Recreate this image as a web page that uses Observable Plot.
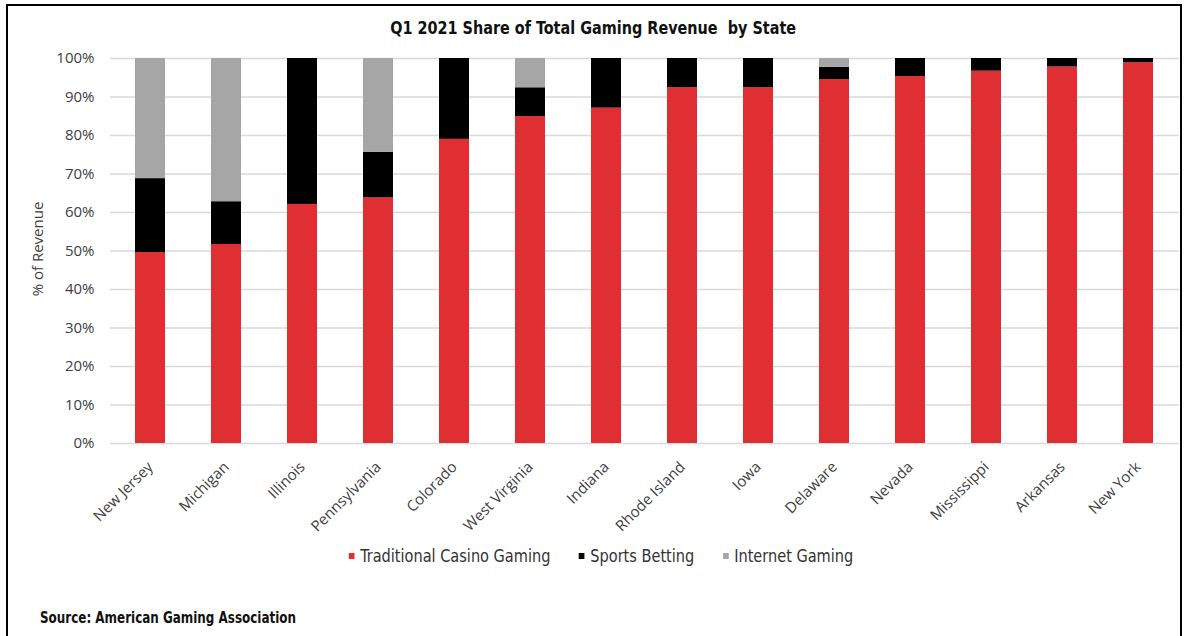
<!DOCTYPE html>
<html>
<head>
<meta charset="utf-8">
<script src="https://cdn.jsdelivr.net/npm/d3@7"></script>
<script src="https://cdn.jsdelivr.net/npm/@observablehq/plot@0.6"></script>
<style>
  html, body { margin: 0; padding: 0; background: #fff; overflow: hidden; }
  #wrap { position: relative; width: 1185px; height: 636px; overflow: hidden; }
  #frame { position: absolute; left: 6px; top: 4px; width: 1176px; height: 700px; border: 2px solid #000; box-sizing: border-box; }
  #chart { position: absolute; left: 0; top: 0; }
  .cond { font-family: "Liberation Sans Narrow", "DejaVu Sans Condensed", Roboto, sans-serif; }
  #title { position: absolute; left: 0; width: 1185px; top: 17px; text-align: center; font-weight: bold; font-size: 18px; color: #111; white-space: pre; transform: scaleX(0.89); transform-origin: 598px 0; }
  #ylabel { position: absolute; left: 37px; top: 249px; transform: translate(-50%, -50%) rotate(-90deg); font-family: "Open Sans", sans-serif; font-size: 15px; color: #404040; white-space: nowrap; }
  #legend { position: absolute; left: 8px; width: 1185px; top: 546px; display: flex; justify-content: center; gap: 30px; font-size: 17px; color: #333; transform: scaleX(0.95); transform-origin: 603px 0; }
  #legend .item { display: flex; align-items: center; }
  #legend .sw { width: 6px; height: 6px; margin-right: 6px; }
  #source { position: absolute; left: 40px; top: 608px; font-weight: bold; font-size: 16px; color: #111; white-space: nowrap; transform: scaleX(0.83); transform-origin: 0 0; }
</style>
</head>
<body>
<div id="wrap">
  <div id="chart"></div>
  <div id="frame"></div>
  <div id="title" class="cond"></div>
  <div id="ylabel"></div>
  <div id="legend" class="cond"></div>
  <div id="source" class="cond"></div>
</div>
<script>
const titleText = "Q1 2021 Share of Total Gaming Revenue  by State";
const yLabel = "% of Revenue";
const sourceText = "Source: American Gaming Association";

const states = ["New Jersey", "Michigan", "Illinois", "Pennsylvania", "Colorado", "West Virginia", "Indiana", "Rhode Island", "Iowa", "Delaware", "Nevada", "Mississippi", "Arkansas", "New York"];
const seriesNames = ["Traditional Casino Gaming", "Sports Betting", "Internet Gaming"];
const seriesColors = ["#e02f33", "#000000", "#a6a6a6"];
// shares in percent
const casino   = [49.6, 51.7, 62.1, 63.8, 79.0, 84.9, 87.1, 92.4, 92.4, 94.5, 95.3, 96.7, 97.8, 98.9];
const sports   = [19.2, 11.1, 37.9, 11.8, 21.0,  7.5, 12.9,  7.6,  7.6,  3.2,  4.7,  3.3,  2.2,  1.1];
const internet = [31.2, 37.2,  0.0, 24.4,  0.0,  7.6,  0.0,  0.0,  0.0,  2.3,  0.0,  0.0,  0.0,  0.0];
const yTicks = [0, 10, 20, 30, 40, 50, 60, 70, 80, 90, 100];

const seriesValues = [casino, sports, internet];
const data = [];
seriesNames.forEach((s, si) => {
  states.forEach((st, i) => data.push({state: st, series: s, value: seriesValues[si][i] / 100}));
});

const chart = Plot.plot({
  width: 1185,
  height: 636,
  marginLeft: 110,
  marginRight: 6,
  marginTop: 58,
  marginBottom: 193,
  style: {fontFamily: "Open Sans, sans-serif", fontSize: "14px", color: "#404040", background: "transparent"},
  x: {domain: states, paddingInner: 0.6, paddingOuter: 0.3, label: null},
  y: {domain: [0, 1], label: null},
  color: {domain: seriesNames, range: seriesColors},
  marks: [
    Plot.ruleY(yTicks.map(d => d / 100), {stroke: "#d9d9d9", strokeWidth: 1.3}),
    Plot.barY(data, {x: "state", y: "value", fill: "series", order: seriesNames}),
    Plot.axisY(yTicks.map(d => d / 100), {tickSize: 0, tickPadding: 16, tickFormat: d3.format(".0%"), fontSize: 15, label: null}),
    Plot.axisX({tickSize: 0, tickPadding: 18, tickRotate: -45, fontSize: 15, label: null, dy: 3})
  ]
});
document.getElementById("chart").appendChild(chart);

document.getElementById("title").textContent = titleText;
document.getElementById("ylabel").textContent = yLabel;
document.getElementById("source").textContent = sourceText;
const legend = document.getElementById("legend");
seriesNames.forEach((s, i) => {
  const item = document.createElement("div");
  item.className = "item";
  const sw = document.createElement("span");
  sw.className = "sw";
  sw.style.background = seriesColors[i];
  const label = document.createElement("span");
  label.textContent = s;
  item.appendChild(sw);
  item.appendChild(label);
  legend.appendChild(item);
});
</script>
</body>
</html>
